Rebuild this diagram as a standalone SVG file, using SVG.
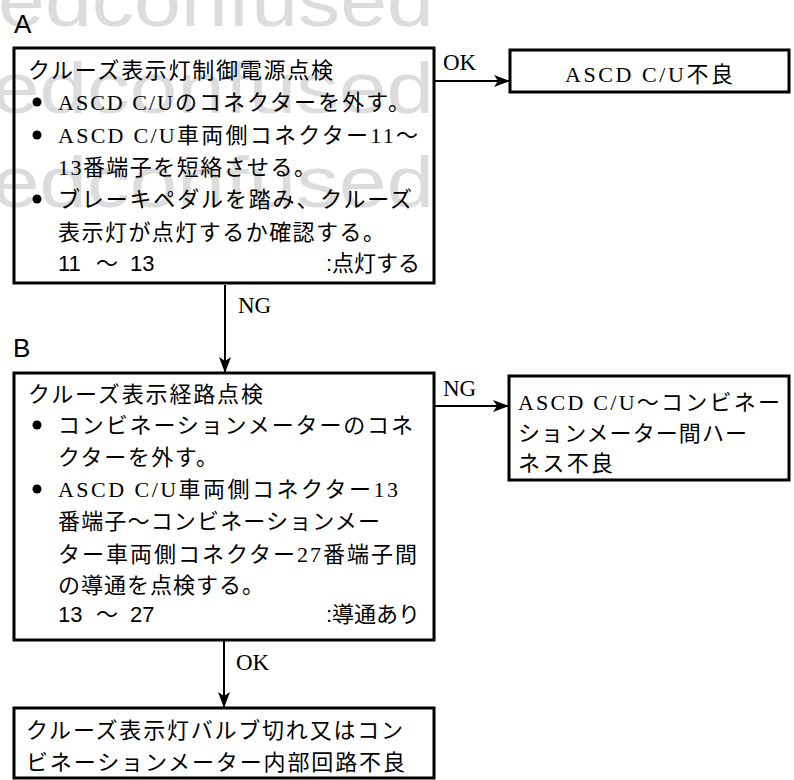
<svg xmlns="http://www.w3.org/2000/svg" width="794" height="780" viewBox="0 0 794 780">
<defs>
<style>
.wm{font-family:"Liberation Sans",Arial,sans-serif;font-size:72px;fill:#dcdcdc}
.lbl{font-family:"Liberation Sans",Arial,sans-serif;font-size:26px;fill:#000}
.box{fill:none;stroke:#000;stroke-width:3}
.ttl{font-family:"Noto Sans CJK JP",sans-serif;font-size:22px;fill:#000}
.txt{font-family:"Liberation Serif","Noto Sans CJK JP",serif;font-size:22px;fill:#000}
.num{font-family:"Liberation Sans","Noto Sans CJK JP",sans-serif;font-size:22px;fill:#000}
.edge{font-family:"Liberation Serif",serif;font-size:23px;fill:#000}
.bul{fill:#000}
.con{stroke:#000;stroke-width:2;fill:none}
</style>
<marker id="ah" viewBox="0 0 16 12" refX="15" refY="6" markerWidth="16" markerHeight="12" markerUnits="userSpaceOnUse" orient="auto">
<path d="M0,0 L16,6 L0,12 L4,6 z" fill="#000"/>
</marker>
</defs>
<rect width="794" height="780" fill="#fff"/>
<g id="watermark">
<text class="wm" x="-2" y="26" textLength="436" lengthAdjust="spacingAndGlyphs">edconfused</text>
<text class="wm" x="-8" y="113" textLength="442" lengthAdjust="spacingAndGlyphs">edconfused</text>
<text class="wm" x="-8" y="207" textLength="442" lengthAdjust="spacingAndGlyphs">edconfused</text>
</g>
<g id="labels">
<text class="lbl" x="14" y="33">A</text>
<text class="lbl" x="13" y="357">B</text>
</g>
<g id="connectors">
<line class="con" x1="435" y1="81" x2="509" y2="81" marker-end="url(#ah)"/>
<text class="edge" x="443" y="70">OK</text>
<line class="con" x1="225" y1="285" x2="225" y2="372" marker-end="url(#ah)"/>
<text class="edge" x="238" y="313">NG</text>
<line class="con" x1="435" y1="406" x2="508" y2="406" marker-end="url(#ah)"/>
<text class="edge" x="443" y="396">NG</text>
<line class="con" x1="224" y1="641" x2="224" y2="707" marker-end="url(#ah)"/>
<text class="edge" x="236" y="670">OK</text>
</g>
<g id="nodeA">
<rect class="box" x="14" y="48" width="420" height="235"/>
<text class="ttl" x="28" y="78" textLength="305">クルーズ表示灯制御電源点検</text>
<circle class="bul" cx="37" cy="102" r="4.5"/>
<text class="txt" x="58" y="110" textLength="352">ASCD C/Uのコネクターを外す。</text>
<circle class="bul" cx="37" cy="135" r="4.5" fill="#555"/>
<text class="txt" x="58" y="143" textLength="360">ASCD C/U車両側コネクター11～</text>
<text class="txt" x="58" y="175" textLength="258">13番端子を短絡させる。</text>
<circle class="bul" cx="37" cy="199" r="4.5"/>
<text class="txt" x="58" y="207" textLength="354">ブレーキペダルを踏み、クルーズ</text>
<text class="txt" x="58" y="240" textLength="327">表示灯が点灯するか確認する。</text>
<text class="num" x="58" y="271">11</text>
<text class="num" x="96" y="271">～</text>
<text class="num" x="130" y="271">13</text>
<text class="num" x="420" y="271" text-anchor="end">:点灯する</text>
</g>
<g id="nodeA_OK">
<rect class="box" x="510" y="50" width="279" height="42"/>
<text class="txt" x="565" y="82" textLength="168">ASCD C/U不良</text>
</g>
<g id="nodeB">
<rect class="box" x="14" y="373" width="420" height="267"/>
<text class="ttl" x="28" y="402" textLength="235">クルーズ表示経路点検</text>
<circle class="bul" cx="37" cy="425" r="4.5"/>
<text class="txt" x="58" y="433" textLength="355">コンビネーションメーターのコネ</text>
<text class="txt" x="58" y="465" textLength="160">クターを外す。</text>
<circle class="bul" cx="37" cy="489" r="4.5"/>
<text class="txt" x="58" y="497" textLength="340">ASCD C/U車両側コネクター13</text>
<text class="txt" x="58" y="529" textLength="322">番端子～コンビネーションメー</text>
<text class="txt" x="58" y="562" textLength="359">ター車両側コネクター27番端子間</text>
<text class="txt" x="58" y="593" textLength="206">の導通を点検する。</text>
<text class="num" x="58" y="622">13</text>
<text class="num" x="96" y="622">～</text>
<text class="num" x="130" y="622">27</text>
<text class="num" x="420" y="622" text-anchor="end">:導通あり</text>
</g>
<g id="nodeB_NG">
<rect class="box" x="509" y="376" width="280" height="104"/>
<text class="txt" x="518" y="410" textLength="262">ASCD C/U～コンビネー</text>
<text class="txt" x="518" y="441" textLength="229">ションメーター間ハー</text>
<text class="txt" x="518" y="471" textLength="95">ネス不良</text>
</g>
<g id="nodeB_OK">
<rect class="box" x="14" y="708" width="420" height="70"/>
<text class="txt" x="26" y="738" textLength="377">クルーズ表示灯バルブ切れ又はコン</text>
<text class="txt" x="26" y="770" textLength="379">ビネーションメーター内部回路不良</text>
</g>
</svg>
